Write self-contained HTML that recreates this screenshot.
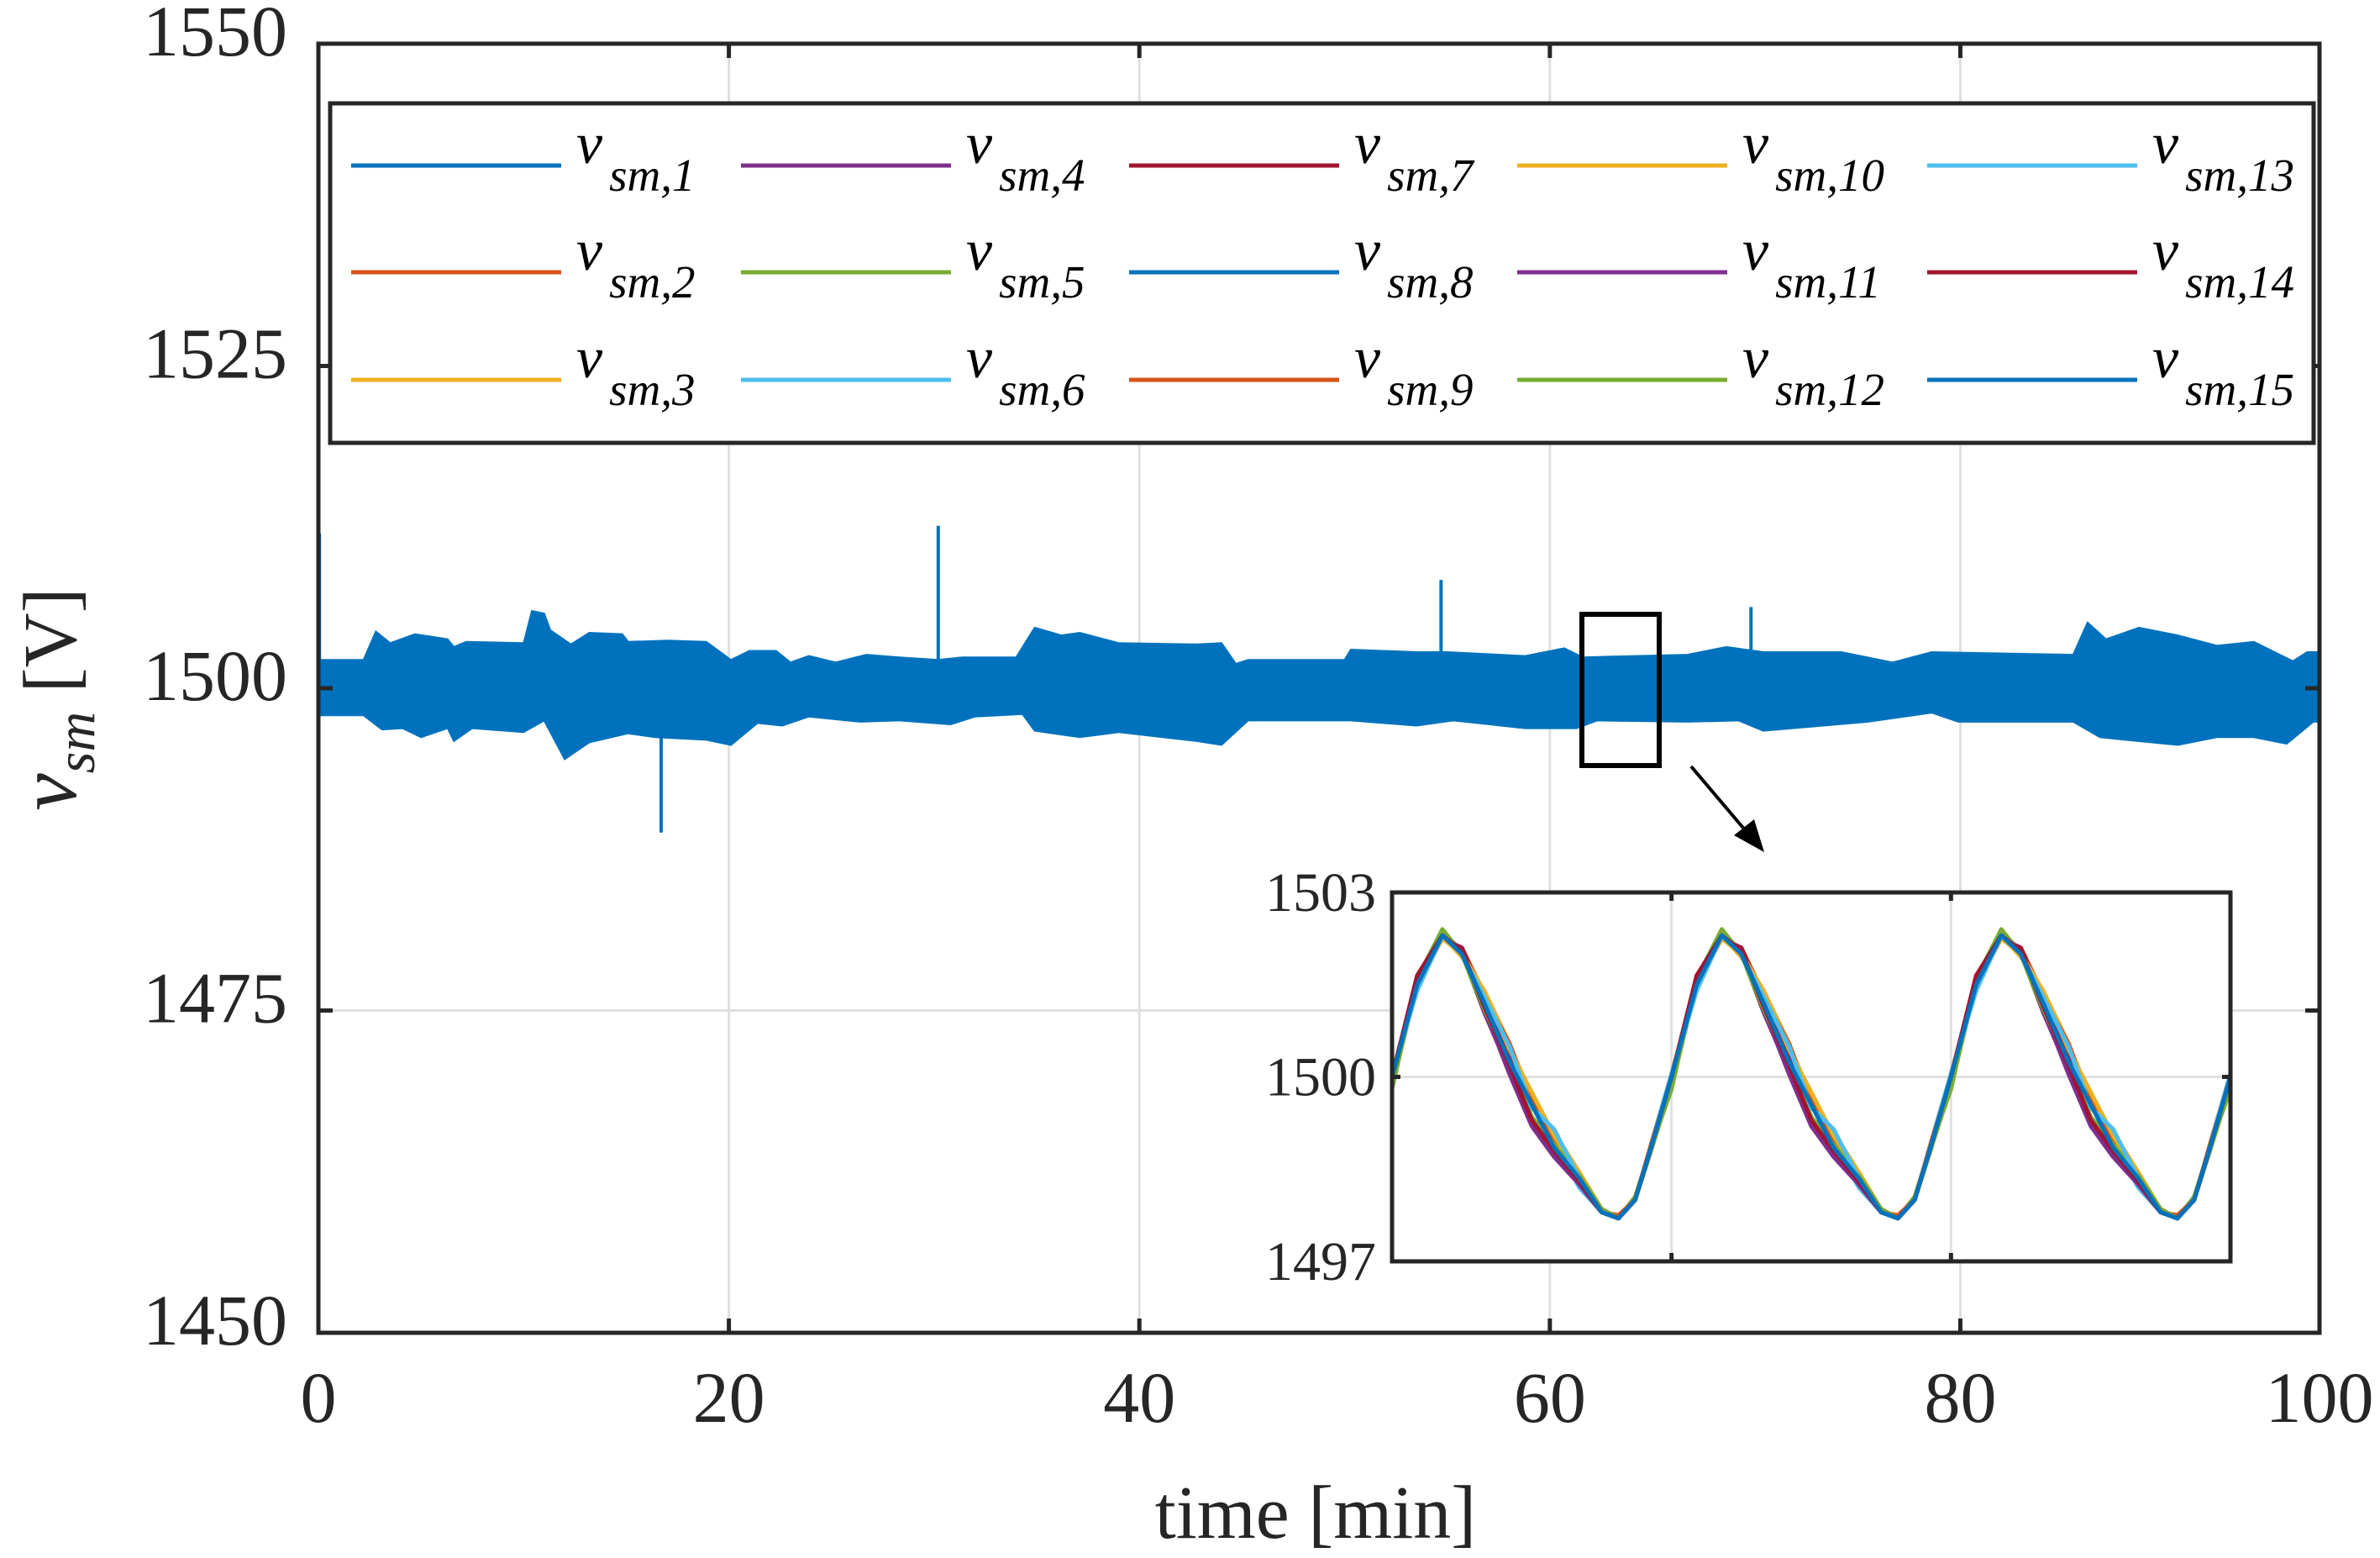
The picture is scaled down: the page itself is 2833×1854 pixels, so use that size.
<!DOCTYPE html>
<html><head><meta charset="utf-8">
<style>
html,body{margin:0;padding:0;background:#fff;}
svg{display:block;font-family:"Liberation Serif",serif;}
</style></head>
<body>
<svg id="chart" width="2833" height="1854" viewBox="0 0 2833 1854" xmlns="http://www.w3.org/2000/svg">
<g id="main"></g>
<g id="legend"></g>
<g id="inset"></g>
</svg>
<script>
// ---------- main chart data ----------
const xTicks = [0, 20, 40, 60, 80, 100];
const yTicks = [1450, 1475, 1500, 1525, 1550];
const upperT = [0,2.2,2.8,3.5,4.7,6.3,6.6,7.2,10,10.4,11,11.3,12.3,13.2,14.8,15.1,17,18.9,20.1,21,22.3,23,23.9,25.2,26.7,28.3,30.2,31.4,34,34.9,36.2,37.1,39,42.8,44,44.7,45.3,50,50.3,53.5,55,58.8,60.7,61.6,66.7,68.6,70.4,74.2,76.7,78.6,85.5,86.2,87.1,88.7,90.6,92.5,94.3,96.2,96.9,100];
const upperV = [1502.2,1502.2,1504.4,1503.5,1504.2,1503.8,1503.2,1503.6,1503.5,1506.0,1505.8,1504.5,1503.4,1504.3,1504.2,1503.6,1503.7,1503.6,1502.2,1502.9,1502.9,1502.0,1502.5,1502.0,1502.6,1502.4,1502.2,1502.4,1502.4,1504.7,1504.1,1504.3,1503.5,1503.4,1503.5,1501.9,1502.2,1502.2,1503.0,1502.8,1502.8,1502.5,1503.1,1502.4,1502.6,1503.2,1502.8,1502.8,1502.0,1502.8,1502.6,1505.1,1503.8,1504.7,1504.1,1503.3,1503.6,1502.1,1502.8,1502.8];
const lowerT = [0,2.2,3.1,4.1,5,6.3,6.6,7.5,10,11,12,13.2,15.1,16.4,18.9,20.1,21.4,22.6,23.9,26.4,28.3,30.8,32,34.3,34.9,37.1,39,42.8,44,45.3,50.3,53.5,55.3,58.8,61.3,62.3,66.7,69.2,70.4,75.5,78.6,79.9,85.5,86.8,89.3,90.6,92.5,94.3,95.9,97.2,100];
const lowerV = [1497.9,1497.9,1496.8,1496.9,1496.2,1496.9,1495.9,1496.9,1496.6,1497.5,1494.5,1495.8,1496.5,1496.2,1496.0,1495.6,1497.3,1497.1,1497.8,1497.4,1497.5,1497.2,1497.8,1498.0,1496.7,1496.2,1496.6,1495.9,1495.6,1497.5,1497.5,1497.1,1497.5,1496.9,1496.9,1497.5,1497.4,1497.5,1496.7,1497.4,1498.1,1497.4,1497.4,1496.2,1495.8,1495.6,1496.2,1496.2,1495.7,1497.4,1497.4];
const spikeT = [0.05, 16.7, 30.2, 54.7, 69.8];
const spikeV = [1512.0, 1488.8, 1512.6, 1508.4, 1506.3];
const spikeBase = [1500.0, 1497.0, 1502.0, 1502.0, 1502.0];

// ---------- legend ----------
const seriesNames = ["1","2","3","4","5","6","7","8","9","10","11","12","13","14","15"];
const seriesColors = ["#0072BD","#D95319","#EDB120","#7E2F8E","#77AC30","#4DBEEE","#A2142F","#0072BD","#D95319","#EDB120","#7E2F8E","#77AC30","#4DBEEE","#A2142F","#0072BD"];

// ---------- inset data ----------
const insetYTicks = [1497, 1500, 1503];
const insetPhase = [0,0.09,0.18,0.25,0.33,0.42,0.5,0.58,0.67,0.75,0.81,0.87,0.93];
const insetBase = [1500.0,1501.5,1502.3,1502.0,1501.2,1500.3,1499.5,1498.9,1498.3,1497.8,1497.7,1498.0,1498.9];
const insetEnd = 1500.0;
const insetDev = [
[0.0,0.05,0.0,0.0,0.1,0.0,0.05,-0.05,0.0,0.05,0.0,0.0,0.0],
[0.05,0.0,-0.05,0.1,0.15,0.2,0.2,0.1,0.1,0.05,0.0,0.0,0.05],
[-0.05,0.0,0.0,-0.05,0.2,0.25,0.1,0.2,0.15,0.05,0.0,0.05,0.0],
[0.0,-0.05,0.0,0.05,-0.1,-0.25,-0.3,-0.2,-0.05,0.0,0.0,0.0,-0.05],
[-0.2,0.1,0.1,0.0,-0.15,-0.1,-0.2,-0.1,0.0,0.0,0.0,0.05,0.0],
[0.05,0.0,0.0,0.0,0.15,0.1,0.15,0.05,-0.1,0.0,0.0,0.0,0.05],
[0.0,0.1,-0.05,0.1,0.05,0.0,-0.2,-0.15,0.0,0.05,0.0,0.0,0.0],
[0.0,0.0,0.0,0.0,-0.05,-0.1,0.1,0.0,0.05,0.0,0.0,0.0,0.0],
[0.0,-0.05,0.0,0.0,0.1,0.25,0.1,0.1,0.0,0.0,0.05,0.0,0.05],
[0.05,0.05,-0.05,0.0,0.2,0.15,0.25,0.15,0.1,0.0,0.0,0.0,0.0],
[0.0,0.0,0.05,0.05,-0.15,-0.2,-0.25,-0.15,-0.05,0.0,0.0,0.0,0.0],
[-0.15,0.0,0.1,0.0,-0.1,-0.05,-0.15,0.0,0.1,0.05,0.0,0.0,-0.05],
[0.05,-0.1,0.0,0.0,0.1,0.2,0.0,0.25,0.05,0.0,0.0,0.0,0.0],
[0.0,0.15,0.0,0.05,-0.05,-0.1,-0.2,-0.1,0.0,0.0,0.0,0.0,0.0],
[0.0,0.0,0.0,0.0,0.0,-0.05,0.05,-0.05,0.05,0.0,0.0,0.0,0.0]
];

const NS = "http://www.w3.org/2000/svg";
function mk(parent, tag, attrs, text){
  const e = document.createElementNS(NS, tag);
  for (const k in attrs) e.setAttribute(k, attrs[k]);
  if (text !== undefined) e.textContent = text;
  parent.appendChild(e);
  return e;
}
const AX = "#262626";

// ---------- main axes ----------
const L = 379, R = 2761, T = 52, B = 1586;
const XMAX = 97.5;
const xS = t => Math.min(R, L + t / XMAX * (R - L));
const yS = v => B - (v - 1450) / 100 * (B - T);
const main = document.getElementById("main");

for (const t of xTicks) {
  if (t > 0 && t < 100) {
    const g = mk(main, "line", {x1:xS(t), x2:xS(t), y1:T, y2:B, stroke:"#dfdfdf", "stroke-width":3});
    
    
  }
}
for (const v of yTicks) {
  if (v > 1450 && v < 1550) {
    const g = mk(main, "line", {x1:L, x2:R, y1:yS(v), y2:yS(v), stroke:"#dfdfdf", "stroke-width":3});
    
    
  }
}
// band
let pts = [];
for (let i = 0; i < upperT.length; i++) pts.push(xS(upperT[i]).toFixed(1) + "," + yS(upperV[i]).toFixed(1));
for (let i = lowerT.length - 1; i >= 0; i--) pts.push(xS(lowerT[i]).toFixed(1) + "," + yS(lowerV[i]).toFixed(1));
const band = mk(main, "polygon", {points: pts.join(" "), fill:"#0072BD", stroke:"#0072BD", "stroke-width":2, "stroke-linejoin":"miter"});


for (let i = 0; i < spikeT.length; i++) {
  const s = mk(main, "line", {x1:xS(spikeT[i]), x2:xS(spikeT[i]), y1:yS(spikeBase[i]), y2:yS(spikeV[i]), stroke:"#0072BD", "stroke-width":4});
  
  
}
// axes box
const box = mk(main, "rect", {x:L, y:T, width:R-L, height:B-T, fill:"none", stroke:AX, "stroke-width":5});


for (const t of xTicks) {
  mk(main, "line", {x1:xS(t), x2:xS(t), y1:B, y2:B-17, stroke:AX, "stroke-width":5});
  mk(main, "line", {x1:xS(t), x2:xS(t), y1:T, y2:T+17, stroke:AX, "stroke-width":5});
  const lb = mk(main, "text", {x:xS(t), y:1692, "text-anchor":"middle", "font-size":86, fill:AX}, String(t));
  
  
}
for (const v of yTicks) {
  mk(main, "line", {x1:L, x2:L+17, y1:yS(v), y2:yS(v), stroke:AX, "stroke-width":5});
  mk(main, "line", {x1:R, x2:R-17, y1:yS(v), y2:yS(v), stroke:AX, "stroke-width":5});
  const lb = mk(main, "text", {x:342, y:yS(v)+14, "text-anchor":"end", "font-size":86, fill:AX}, String(v));
  
  
}
const xt = mk(main, "text", {x:1566, y:1830, "text-anchor":"middle", "font-size":90, fill:AX}, "time [min]");


const yt = mk(main, "text", {x:0, y:0, "text-anchor":"middle", "font-size":90, fill:AX, transform:"translate(90,832) rotate(-90)"});


mk(yt, "tspan", {"font-style":"italic", "font-size":100}, "v");
mk(yt, "tspan", {"font-style":"italic", "font-size":66, dy:22}, "sm");
mk(yt, "tspan", {dy:-22}, " [V]");

// zoom rectangle + arrow
const zr = mk(main, "rect", {x:1883, y:731, width:92, height:180, fill:"none", stroke:"#000", "stroke-width":6});


const ar = mk(main, "line", {x1:2013, y1:912, x2:2085, y2:997, stroke:"#000", "stroke-width":4});


const ah = mk(main, "polygon", {points:"2100,1014 2064,994 2088,975", fill:"#000"});



// ---------- legend ----------
const leg = document.getElementById("legend");
const lb0 = mk(leg, "rect", {x:393, y:123, width:2361, height:404, fill:"#fff", stroke:AX, "stroke-width":5});


const colX = [418, 882, 1344, 1806, 2294];
const rowY = [197, 324, 452];
for (let i = 0; i < seriesNames.length; i++) {
  const c = Math.floor(i / 3), r = i % 3;
  const g = mk(leg, "g", {});
  
  
  mk(g, "line", {x1:colX[c], x2:colX[c]+250, y1:rowY[r], y2:rowY[r], stroke:seriesColors[i], "stroke-width":5});
  const tx = mk(g, "text", {x:colX[c]+268, y:rowY[r]-3, "font-size":70, "font-style":"italic", fill:"#000"});
  mk(tx, "tspan", {}, "v");
  mk(tx, "tspan", {"font-size":55, dx:8, dy:33}, "sm," + seriesNames[i]);
}

// ---------- inset ----------
const ins = document.getElementById("inset");
const IL = 1657, IR = 2655, IT = 1062, IB = 1501;
const ixS = x => IL + x / 3 * (IR - IL);
const iyS = v => IB - (v - 1497) / 6 * (IB - IT);
const ibg = mk(ins, "rect", {x:IL, y:IT, width:IR-IL, height:IB-IT, fill:"#fff"});


for (const x of [1, 2]) mk(ins, "line", {x1:ixS(x), x2:ixS(x), y1:IT, y2:IB, stroke:"#dfdfdf", "stroke-width":3});
mk(ins, "line", {x1:IL, x2:IR, y1:iyS(1500), y2:iyS(1500), stroke:"#dfdfdf", "stroke-width":3});
for (let s = 0; s < insetDev.length; s++) {
  let d = "";
  for (let p = 0; p < 3; p++) {
    for (let k = 0; k < insetPhase.length; k++) {
      const x = p + insetPhase[k];
      const v = insetBase[k] + insetDev[s][k];
      d += (d ? " L" : "M") + ixS(x).toFixed(1) + "," + iyS(v).toFixed(1);
    }
  }
  d += " L" + ixS(3).toFixed(1) + "," + iyS(insetEnd + insetDev[s][0]).toFixed(1);
  const pth = mk(ins, "path", {d:d, fill:"none", stroke:seriesColors[s], "stroke-width":5, "stroke-linejoin":"round"});
  
  
}
const ibox = mk(ins, "rect", {x:IL, y:IT, width:IR-IL, height:IB-IT, fill:"none", stroke:AX, "stroke-width":5});


for (const x of [1, 2]) {
  mk(ins, "line", {x1:ixS(x), x2:ixS(x), y1:IT, y2:IT+10, stroke:AX, "stroke-width":5});
  mk(ins, "line", {x1:ixS(x), x2:ixS(x), y1:IB, y2:IB-10, stroke:AX, "stroke-width":5});
}
mk(ins, "line", {x1:IL, x2:IL+10, y1:iyS(1500), y2:iyS(1500), stroke:AX, "stroke-width":5});
mk(ins, "line", {x1:IR, x2:IR-10, y1:iyS(1500), y2:iyS(1500), stroke:AX, "stroke-width":5});
for (const v of insetYTicks) {
  const lb = mk(ins, "text", {x:1638, y:iyS(v)+22, "text-anchor":"end", "font-size":66, fill:AX}, String(v));
  
  
}
</script>
</body></html>
